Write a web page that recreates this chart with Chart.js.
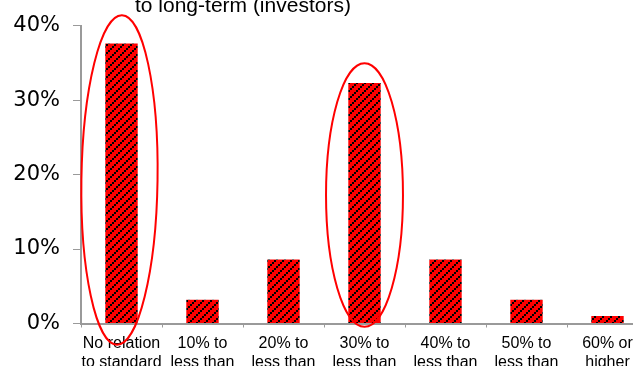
<!DOCTYPE html>
<html>
<head>
<meta charset="utf-8">
<script src="https://cdn.jsdelivr.net/npm/chart.js@4/dist/chart.umd.min.js"></script>
<style>
  html, body { margin: 0; padding: 0; background: #fff; overflow: hidden; }
  #wrap { position: relative; width: 660px; height: 366px; }
</style>
</head>
<body>
<div id="wrap"><canvas id="c"></canvas></div>
<script>
// categories (lower lines of the labels are cut off in the source)
const categories = [
    ['No relation', 'to standard'],
    ['10% to', 'less than'],
    ['20% to', 'less than'],
    ['30% to', 'less than'],
    ['40% to', 'less than'],
    ['50% to', 'less than'],
    ['60% or', 'higher']
];
const shares = [37.6, 3.2, 8.6, 32.3, 8.6, 3.2, 1.0];
const yTicks = [0, 10, 20, 30, 40];
const titleText = 'to long-term (investors)';
// highlighted categories: index, top and bottom of the ring in % units, half width in categories
const rings = [
    { index: 0, top: 41.4, bottom: -2.85, half: 0.47, shift: -0.025, tilt: 0.015 },
    { index: 3, top: 34.95, bottom: -0.45, half: 0.475, shift: 0, tilt: 0 }
];

function hatch() {
    let p = document.createElement('canvas');
    p.width = 8; p.height = 8;
    let g = p.getContext('2d');
    g.fillStyle = '#ff0000';
    g.fillRect(0, 0, 8, 8);
    g.fillStyle = '#000000';
    for (let i = 0; i < 8; i += 2) g.fillRect(6 - i, i, 2, 2);
    return g.createPattern(p, 'repeat');
}

const ringPlugin = {
    id: 'rings',
    afterDatasetsDraw(chart) {
        let ctx = chart.ctx;
        let x = chart.scales.x, y = chart.scales.y;
        let step = x.getPixelForValue(1) - x.getPixelForValue(0);
        ctx.save();
        ctx.strokeStyle = '#ff0000';
        ctx.lineWidth = 2;
        for (let r of rings) {
            let cx = x.getPixelForValue(r.index) + r.shift * step;
            let yt = y.getPixelForValue(r.top), yb = y.getPixelForValue(r.bottom);
            ctx.beginPath();
            ctx.ellipse(cx, (yt + yb) / 2, r.half * step, (yb - yt) / 2, r.tilt, 0, Math.PI * 2);
            ctx.stroke();
        }
        ctx.restore();
    },
    afterDraw(chart) {
        let ctx = chart.ctx;
        ctx.save();
        ctx.font = '21px "Liberation Sans", Arial, sans-serif';
        ctx.fillStyle = '#000';
        ctx.textAlign = 'left';
        ctx.textBaseline = 'alphabetic';
        ctx.fillText(titleText, chart.chartArea.left + 54, 12);
        ctx.restore();
    }
};

new Chart(document.getElementById('c'), {
    type: 'bar',
    data: {
        labels: categories,
        datasets: [{
            data: shares,
            backgroundColor: hatch(),
            borderColor: '#ff0000',
            borderWidth: 0,
            categoryPercentage: 1,
            barPercentage: 0.4
        }]
    },
    options: {
        responsive: true,
        maintainAspectRatio: false,
        animation: false,
        layout: { padding: { top: 20.7, right: 12, left: 0, bottom: 0 } },
        plugins: { legend: { display: false }, tooltip: { enabled: false }, title: { display: false } },
        scales: {
            x: {
                grid: { display: true, drawOnChartArea: false, drawTicks: true, tickLength: 4, color: '#9a9a9a', offset: true },
                border: { display: true, color: '#9a9a9a', width: 2 },
                ticks: {
                    color: '#000',
                    font: { family: '"Liberation Sans", Arial, sans-serif', size: 16, lineHeight: 1.2 },
                    maxRotation: 0, minRotation: 0, autoSkip: false, padding: 6
                },
                afterFit: s => { s.height = 42.5; }
            },
            y: {
                min: 0, max: 40,
                afterBuildTicks: s => { s.ticks = yTicks.map(v => ({ value: v })); },
                grid: { display: true, drawOnChartArea: false, drawTicks: true, tickLength: 8, color: '#9a9a9a' },
                border: { display: true, color: '#9a9a9a', width: 2 },
                ticks: {
                    color: '#000',
                    font: { family: '"DejaVu Sans", Verdana, sans-serif', size: 21 },
                    padding: 13,
                    callback: v => v + '%'
                },
                afterFit: s => { s.width = 81; }
            }
        }
    },
    plugins: [ringPlugin]
});
</script>
</body>
</html>
